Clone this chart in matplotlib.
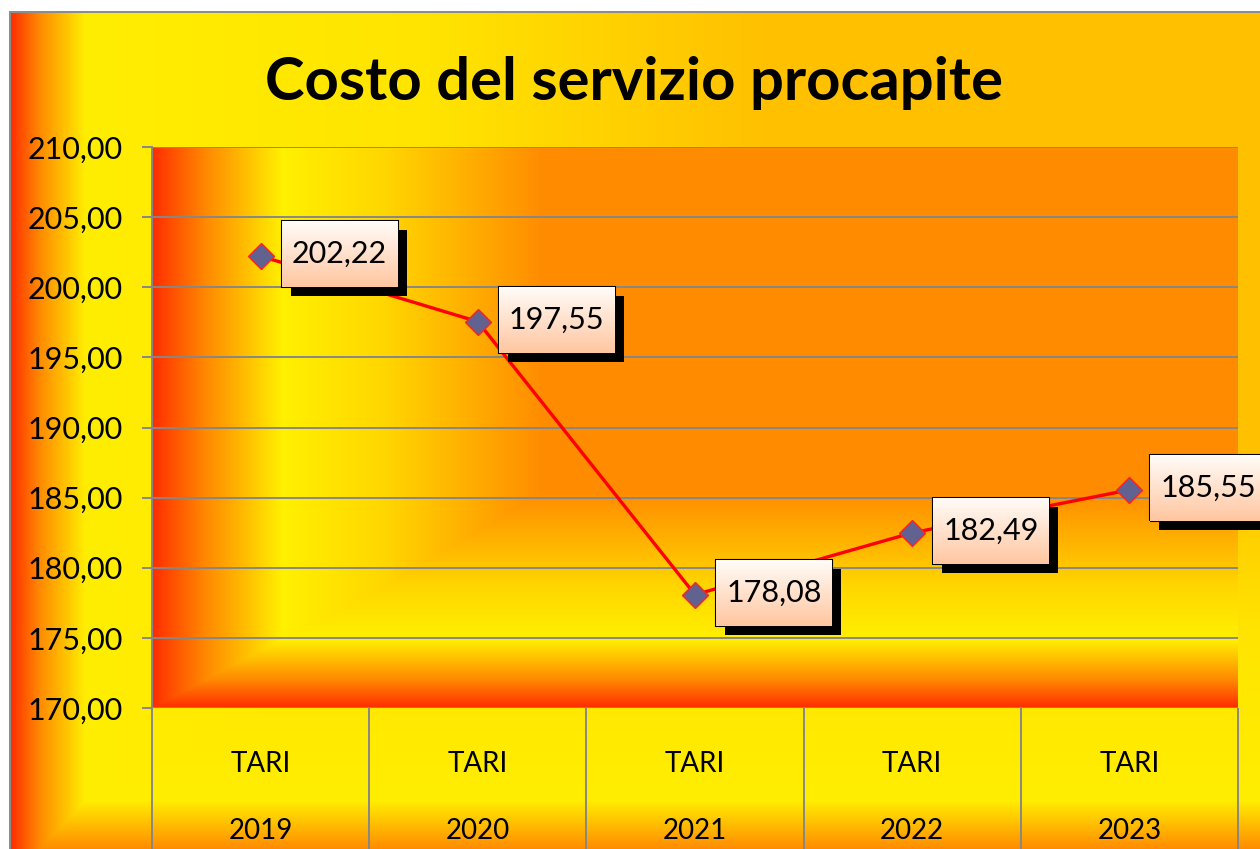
import numpy as np
import matplotlib
matplotlib.use("Agg")
import matplotlib.pyplot as plt
from matplotlib.ticker import FuncFormatter
from matplotlib.offsetbox import OffsetImage, AnnotationBbox

# ---------------- data ----------------
categories = ["TARI", "TARI", "TARI", "TARI", "TARI"]
years = ["2019", "2020", "2021", "2022", "2023"]
values = [202.22, 197.55, 178.08, 182.49, 185.55]
y_ticks = [170, 175, 180, 185, 190, 195, 200, 205, 210]
title = "Costo del servizio procapite"

W, H, DPI = 1260, 849, 100
FONT = "Lato"


def ramp(u, stops, cols):
    cols = np.array(cols, dtype=float) / 255.0
    out = np.empty(u.shape + (3,))
    for c in range(3):
        out[..., c] = np.interp(u, stops, cols[:, c])
    return out


# ---------------- figure background ----------------
yy, xx = np.mgrid[0:H, 0:W].astype(float)
dx = xx - 10
dy = 880 - yy
ul = np.interp(dx, [0, 75, 420, 760], [0, 0.2, 0.5, 1.0])
ub = np.interp(dy, [0, 80, 250, 420], [0, 0.2, 0.5, 1.0])
u = np.minimum(ul, ub)
bg = ramp(u, [0, 0.08, 0.2, 0.5, 1.0],
          [(255, 45, 0), (255, 140, 0), (255, 238, 0), (255, 228, 0), (255, 192, 0)])
bg[(xx < 10) | (yy < 11)] = 1.0
bg[11:13, 10:] = 0.55
bg[11:, 9:11] = 0.55

fig = plt.figure(figsize=(W / DPI, H / DPI), dpi=DPI)
fig.figimage(bg, 0, 0, origin="upper", zorder=-5)

# ---------------- axes ----------------
L, R, T, B = 152, 1238, 147, 708
ax = fig.add_axes([L / W, (H - B) / H, (R - L) / W, (B - T) / H])
ax.patch.set_visible(False)

# plot-area gradient
ph, pw = B - T, R - L
py, px = np.mgrid[0:ph, 0:pw].astype(float)
pdx = px
pdy = (ph - 1) - py
pul = np.interp(pdx, [0, 130, 230, 390], [0, 0.2, 0.45, 1.0])
pub = np.interp(pdy, [0, 68, 120, 215], [0, 0.2, 0.45, 1.0])
pu = np.minimum(pul, pub)
pbg = ramp(pu, [0, 0.08, 0.2, 0.45, 1.0],
           [(255, 45, 0), (255, 135, 0), (255, 240, 0), (255, 215, 0), (255, 140, 0)])

ax.set_xlim(-0.5, len(values) - 0.5)
ax.set_ylim(170, 210)
ax.imshow(pbg, extent=(-0.5, len(values) - 0.5, 170, 210), aspect="auto",
          origin="upper", zorder=0, interpolation="nearest")
ax.set_xlim(-0.5, len(values) - 0.5)
ax.set_ylim(170, 210)

grey = "#878787"
ax.set_yticks(y_ticks)
ax.yaxis.set_major_formatter(FuncFormatter(lambda v, p: f"{v:.2f}".replace(".", ",")))
ax.grid(axis="y", color=grey, linewidth=1.4, zorder=1)
for s in ["top", "right", "bottom"]:
    ax.spines[s].set_visible(False)
ax.spines["left"].set_color(grey)
ax.spines["left"].set_linewidth(1.4)
ax.tick_params(axis="y", direction="out", length=7, width=1.4, color=grey,
               pad=14, labelsize=22, labelcolor="black")
for lab in ax.get_yticklabels():
    lab.set_fontfamily(FONT)

xpos = np.arange(len(values))
ax.set_xticks(xpos)
ax.set_xticklabels([f"{c}\n{y}" for c, y in zip(categories, years)],
                   fontsize=20, fontfamily=FONT, linespacing=2.95)
ax.set_xticks(np.arange(len(values) + 1) - 0.5, minor=True)
ax.tick_params(axis="x", which="major", length=0, pad=31)
ax.tick_params(axis="x", which="minor", direction="out", length=110, width=1.4, color=grey)

# line
ax.plot(xpos, values, color="#FF0000", linewidth=2.4, zorder=3,
        marker="D", markersize=13.5, markerfacecolor="#626290",
        markeredgecolor="#FF2020", markeredgewidth=1.0, clip_on=False)

# data labels
bw, bh = 116, 66
g = np.linspace(0, 1, bh)[:, None]
top_c = np.array([255, 252, 248]) / 255
bot_c = np.array([255, 198, 160]) / 255
box_img = (top_c[None, None, :] * (1 - g[..., None]) + bot_c[None, None, :] * g[..., None])
box_img = np.repeat(box_img, bw, axis=1)
shadow_img = np.zeros((bh, bw, 3))

for i, v in enumerate(values):
    sh = AnnotationBbox(OffsetImage(shadow_img, dpi_cor=False), (i, v),
                        xybox=(79 + 9, 2 - 9), xycoords="data", boxcoords="offset pixels",
                        frameon=False, pad=0, annotation_clip=False, zorder=4)
    ax.add_artist(sh)
    bx = AnnotationBbox(OffsetImage(box_img, dpi_cor=False), (i, v),
                        xybox=(79, 2), xycoords="data", boxcoords="offset pixels",
                        frameon=True, pad=0, annotation_clip=False, zorder=5,
                        bboxprops=dict(edgecolor="black", linewidth=1.5, facecolor="none"))
    ax.add_artist(bx)
    ax.annotate(f"{v:.2f}".replace(".", ","), (i, v), xytext=(79, 2),
                textcoords="offset pixels", ha="center", va="center",
                fontsize=22, fontfamily=FONT, color="black", zorder=6,
                annotation_clip=False)

fig.text(634 / W, 1 - 100 / H, title, ha="center", va="baseline",
         fontsize=43, fontweight="bold", fontfamily=FONT, color="black")

fig.savefig("out.png", dpi=DPI)
